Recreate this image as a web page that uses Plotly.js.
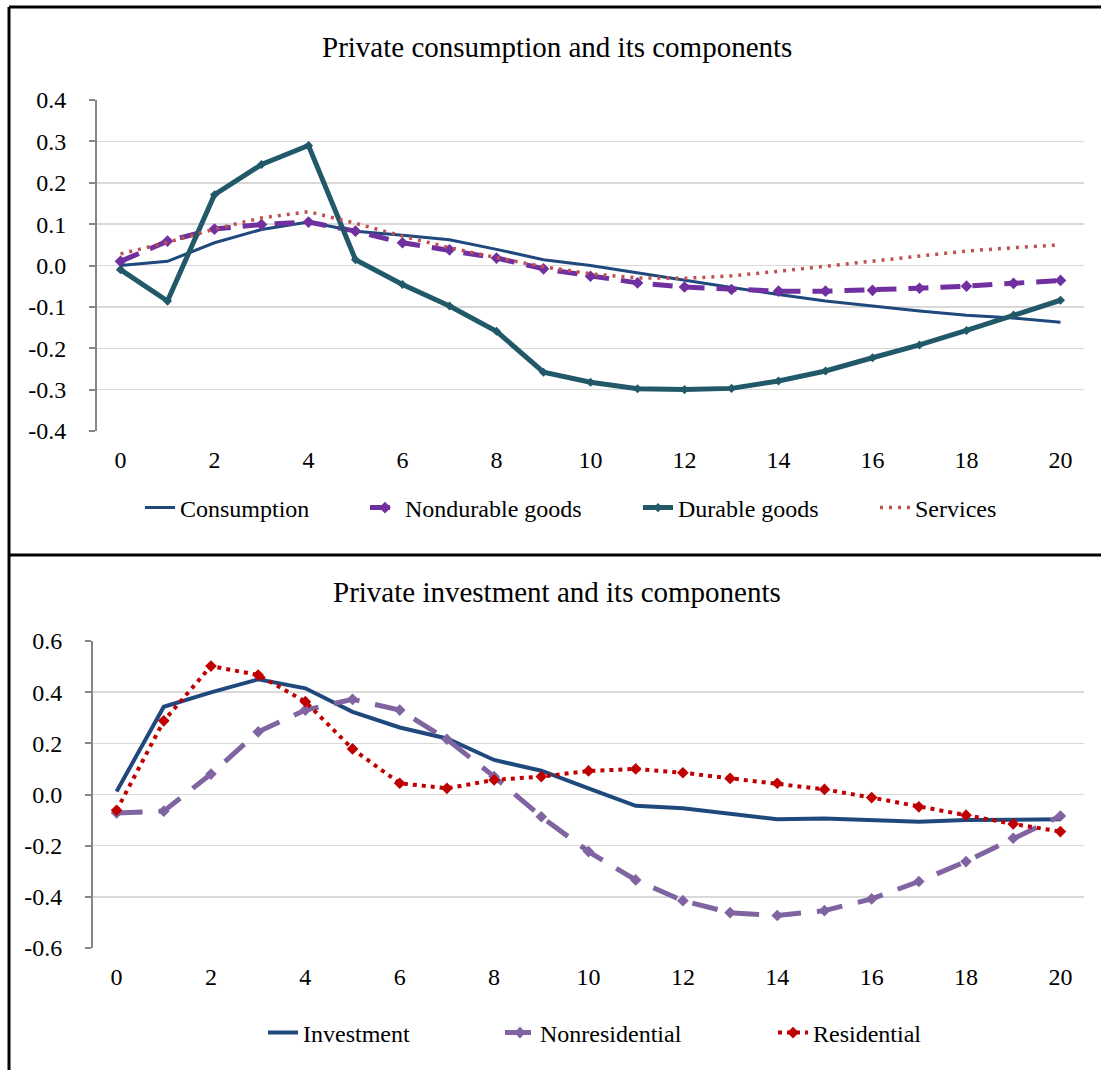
<!DOCTYPE html>
<html>
<head>
<meta charset="utf-8">
<script src="https://cdn.plot.ly/plotly-3.0.1.min.js"></script>
<style>
  html, body { margin: 0; padding: 0; background: #ffffff; }
  #chart { width: 1101px; height: 1070px; }
</style>
</head>
<body>
<div id="chart"></div>
<script>
// Quarters after the shock
const quarters = [0,1,2,3,4,5,6,7,8,9,10,11,12,13,14,15,16,17,18,19,20];

// Private consumption and its components
const consumption = [0.000,0.010,0.055,0.087,0.105,0.083,0.073,0.062,0.039,0.014,0.000,-0.018,-0.035,-0.053,-0.070,-0.086,-0.098,-0.110,-0.120,-0.127,-0.137];
const nondurable  = [0.010,0.059,0.088,0.099,0.105,0.083,0.055,0.038,0.018,-0.008,-0.026,-0.042,-0.052,-0.058,-0.062,-0.062,-0.060,-0.055,-0.050,-0.043,-0.036];
const durable     = [-0.010,-0.086,0.171,0.244,0.290,0.014,-0.046,-0.098,-0.159,-0.258,-0.282,-0.298,-0.300,-0.297,-0.279,-0.255,-0.223,-0.192,-0.157,-0.120,-0.084];
const services    = [0.028,0.056,0.088,0.115,0.130,0.102,0.071,0.043,0.019,-0.003,-0.020,-0.030,-0.031,-0.025,-0.014,-0.002,0.012,0.024,0.035,0.043,0.050];

// Private investment and its components
const investment     = [0.012,0.343,0.399,0.450,0.415,0.323,0.262,0.219,0.135,0.093,0.024,-0.044,-0.054,-0.075,-0.097,-0.094,-0.100,-0.107,-0.100,-0.099,-0.097];
const nonresidential = [-0.072,-0.065,0.080,0.245,0.330,0.372,0.330,0.216,0.070,-0.087,-0.223,-0.334,-0.415,-0.462,-0.473,-0.454,-0.408,-0.340,-0.262,-0.171,-0.084];
const residential    = [-0.062,0.288,0.502,0.467,0.363,0.178,0.044,0.024,0.057,0.070,0.092,0.100,0.085,0.063,0.044,0.020,-0.012,-0.048,-0.081,-0.115,-0.145];

// Axis labels
const xTickVals = [0,2,4,6,8,10,12,14,16,18,20];
const xTickText = ['0','2','4','6','8','10','12','14','16','18','20'];
const xCatBounds = [-0.5,0.5,1.5,2.5,3.5,4.5,5.5,6.5,7.5,8.5,9.5,10.5,11.5,12.5,13.5,14.5,15.5,16.5,17.5,18.5,19.5,20.5];
const yTopVals = [-0.4,-0.3,-0.2,-0.1,0,0.1,0.2,0.3,0.4];
const yTopText = ['-0.4','-0.3','-0.2','-0.1','0.0','0.1','0.2','0.3','0.4'];
const yBotVals = [-0.6,-0.4,-0.2,0,0.2,0.4,0.6];
const yBotText = ['-0.6','-0.4','-0.2','0.0','0.2','0.4','0.6'];

const W = 1101, H = 1070;
const px = v => v / W;
const py = v => 1 - v / H;

const FONT = 'Liberation Serif, Times New Roman, serif';
const AXIS_GREY = '#868686';
const GRID_GREY = '#d9d9d9';

const topX = [px(97), px(1084)];
const topY = [py(431), py(100)];
const botX = [px(93), px(1084)];
const botY = [py(948), py(641)];

const traces = [
  { x: quarters, y: consumption, name: 'Consumption', type: 'scatter', mode: 'lines',
    line: { color: '#1F497D', width: 3 }, xaxis: 'x', yaxis: 'y', legend: 'legend' },
  { x: quarters, y: nondurable, name: 'Nondurable goods', type: 'scatter', mode: 'lines+markers',
    line: { color: '#7030A0', width: 5, dash: '20px,12px' },
    marker: { symbol: 'diamond', size: 9, color: '#7030A0' },
    xaxis: 'x', yaxis: 'y', legend: 'legend2' },
  { x: quarters, y: durable, name: 'Durable goods', type: 'scatter', mode: 'lines+markers',
    line: { color: '#215968', width: 5 },
    marker: { symbol: 'diamond', size: 7, color: '#215968' },
    xaxis: 'x', yaxis: 'y', legend: 'legend3' },
  { x: quarters, y: services, name: 'Services', type: 'scatter', mode: 'lines',
    line: { color: '#C0504D', width: 3.5, dash: '3px,6px' },
    xaxis: 'x', yaxis: 'y', legend: 'legend4' },

  { x: quarters, y: investment, name: 'Investment', type: 'scatter', mode: 'lines',
    line: { color: '#1F497D', width: 4 }, xaxis: 'x3', yaxis: 'y2', legend: 'legend5' },
  { x: quarters, y: nonresidential, name: 'Nonresidential', type: 'scatter', mode: 'lines+markers',
    line: { color: '#8064A2', width: 5, dash: '26px,16px' },
    marker: { symbol: 'diamond', size: 9, color: '#8064A2' },
    xaxis: 'x3', yaxis: 'y2', legend: 'legend6' },
  { x: quarters, y: residential, name: 'Residential', type: 'scatter', mode: 'lines+markers',
    line: { color: '#C00000', width: 4, dash: '4px,5px' },
    marker: { symbol: 'diamond', size: 9, color: '#C00000' },
    xaxis: 'x3', yaxis: 'y2', legend: 'legend7' }
];

// Category-style x axis: labels along the bottom edge of the plot area
function labelAxis(domain, anchor) {
  return {
    domain: domain, anchor: anchor, range: [-0.5, 20.5],
    tickmode: 'array', tickvals: xTickVals, ticktext: xTickText,
    showline: false, showgrid: false, zeroline: false, ticks: '',
    ticklabelstandoff: 12,
    tickfont: { family: FONT, size: 24, color: '#000000' },
    fixedrange: true
  };
}
// Axis line through zero, with tick marks between categories
function zeroAxis(over, domain, yDomain) {
  return {
    overlaying: over, anchor: 'free', position: (yDomain[0] + yDomain[1]) / 2,
    domain: domain, range: [-0.5, 20.5],
    tickmode: 'array', tickvals: xCatBounds, showticklabels: false,
    showline: true, linecolor: AXIS_GREY, linewidth: 2,
    ticks: 'inside', ticklen: 7, tickwidth: 2, tickcolor: AXIS_GREY,
    showgrid: false, zeroline: false, fixedrange: true
  };
}
function valueAxis(domain, anchor, range, vals, text) {
  return {
    domain: domain, anchor: anchor, range: range,
    tickmode: 'array', tickvals: vals, ticktext: text,
    showline: true, linecolor: AXIS_GREY, linewidth: 2,
    ticks: 'outside', ticklen: 6, tickwidth: 2, tickcolor: AXIS_GREY,
    showgrid: true, gridcolor: GRID_GREY, gridwidth: 1.5, zeroline: false,
    ticklabelstandoff: 18,
    tickfont: { family: FONT, size: 24, color: '#000000' },
    fixedrange: true
  };
}
// One legend box per series, placed along a row
function legendAt(textLeft, rowY) {
  return {
    orientation: 'h', x: px(textLeft - 40), xanchor: 'left', y: py(rowY), yanchor: 'middle',
    font: { family: FONT, size: 24, color: '#000000' }, bgcolor: 'rgba(0,0,0,0)',
    itemwidth: 30
  };
}

const frame = { type: 'line', xref: 'paper', yref: 'paper', line: { color: '#000000', width: 3 } };

const layout = {
  width: W, height: H,
  margin: { l: 0, r: 0, t: 0, b: 0 },
  paper_bgcolor: '#ffffff', plot_bgcolor: 'rgba(0,0,0,0)',
  font: { family: FONT, size: 24, color: '#000000' },
  showlegend: true,
  xaxis: labelAxis(topX, 'y'),
  xaxis2: zeroAxis('x', topX, topY),
  yaxis: valueAxis(topY, 'x', [-0.4, 0.4], yTopVals, yTopText),
  xaxis3: labelAxis(botX, 'y2'),
  xaxis4: zeroAxis('x3', botX, botY),
  yaxis2: valueAxis(botY, 'x3', [-0.6, 0.6], yBotVals, yBotText),
  legend:  legendAt(180, 508),
  legend2: legendAt(405, 508),
  legend3: legendAt(678, 508),
  legend4: legendAt(915, 508),
  legend5: legendAt(303, 1033),
  legend6: legendAt(540, 1033),
  legend7: legendAt(813, 1033),
  annotations: [
    { text: 'Private consumption and its components', xref: 'paper', yref: 'paper',
      x: px(557), y: py(47), xanchor: 'center', yanchor: 'middle', showarrow: false,
      font: { family: FONT, size: 29, color: '#000000' } },
    { text: 'Private investment and its components', xref: 'paper', yref: 'paper',
      x: px(557), y: py(592), xanchor: 'center', yanchor: 'middle', showarrow: false,
      font: { family: FONT, size: 29, color: '#000000' } }
  ],
  shapes: [
    Object.assign({}, frame, { x0: px(9), x1: 1.01, y0: py(7), y1: py(7) }),
    Object.assign({}, frame, { x0: px(9), x1: px(9), y0: py(7), y1: -0.01 }),
    Object.assign({}, frame, { x0: px(9), x1: 1.01, y0: py(555), y1: py(555) })
  ]
};

Plotly.newPlot('chart', traces, layout, { displayModeBar: false, staticPlot: true });
</script>
</body>
</html>
